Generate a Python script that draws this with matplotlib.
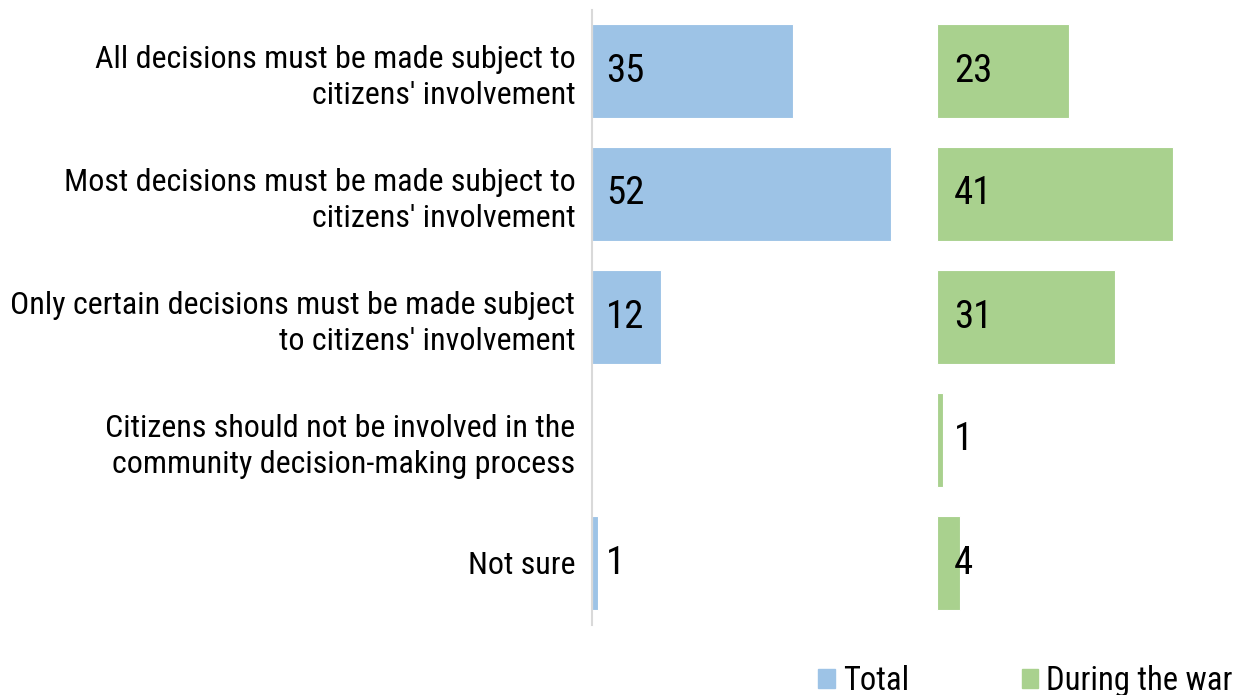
import matplotlib
matplotlib.use("Agg")
import matplotlib.pyplot as plt
from matplotlib import font_manager
from matplotlib.patches import Patch

categories = [
    "All decisions must be made subject to\ncitizens' involvement",
    "Most decisions must be made subject to\ncitizens' involvement",
    "Only certain decisions must be made subject\nto citizens' involvement",
    "Citizens should not be involved in the\ncommunity decision-making process",
    "Not sure",
]
total = [35, 52, 12, None, 1]
during_war = [23, 41, 31, 1, 4]
series_names = ["Total", "During the war"]

blue = "#9DC3E6"
green = "#A9D18E"

available = set(f.name for f in font_manager.fontManager.ttflist)
font = "DejaVu Sans"
for name in ["Roboto Condensed", "Liberation Sans Narrow", "Roboto"]:
    if name in available:
        font = name
        break
plt.rcParams["font.family"] = font

W, H = 1242, 695
fig = plt.figure(figsize=(W / 100, H / 100), dpi=100)

top = 1 - 9.5 / H
bottom = 1 - 624.5 / H
ax1 = fig.add_axes([592 / W, bottom, 345 / W, top - bottom])
ax2 = fig.add_axes([937 / W, bottom, (W - 937) / W, top - bottom])

ypos = list(range(len(categories)))
scale = 345 / 60.0

for ax, vals, col, xmax, off in [(ax1, total, blue, 60, 14),
                                 (ax2, during_war, green, (W - 937) / scale, 17)]:
    for y, v in zip(ypos, vals):
        if v is None:
            continue
        ax.barh(y, v, height=0.765, color=col, edgecolor="white", linewidth=0.8)
        ax.annotate(str(v), xy=(0, y), xytext=(off, 0), textcoords="offset pixels",
                    ha="left", va="center", fontsize=28, color="black")
    ax.set_xlim(0, xmax)
    ax.set_ylim(len(categories) - 0.5, -0.5)
    ax.set_xticks([])
    ax.set_yticks([])
    for s in ax.spines.values():
        s.set_visible(False)

ax1.spines["left"].set_visible(True)
ax1.spines["left"].set_color("#D9D9D9")
ax1.spines["left"].set_linewidth(1.5)

ax1.set_yticks(ypos)
ax1.set_yticklabels(categories, fontsize=23, linespacing=1.3)
ax1.tick_params(axis="y", length=0, pad=12)

handles = [Patch(color=blue), Patch(color=green)]
fig.legend(handles, series_names, loc="lower left", bbox_to_anchor=(789 / W, -0.045),
           ncol=2, frameon=False, fontsize=23.5, handlelength=0.5, handleheight=0.5,
           handletextpad=0.25, columnspacing=3.45)

fig.savefig("out.png", dpi=100)
